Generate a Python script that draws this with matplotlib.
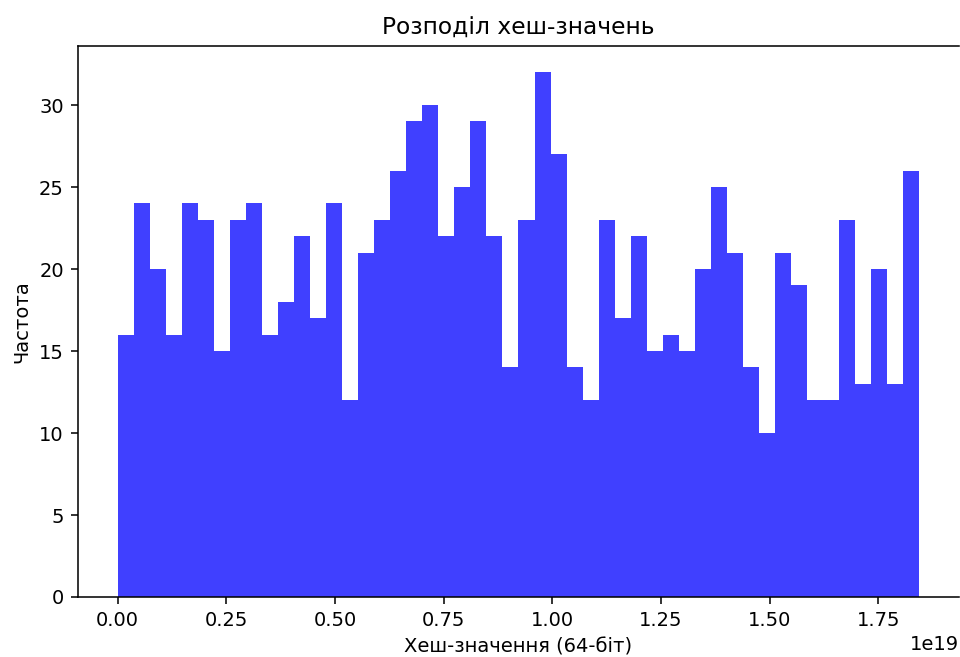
import numpy as np
import matplotlib
matplotlib.use("Agg")
import matplotlib.pyplot as plt

# histogram counts (50 bins over the 64-bit range)
counts = [16, 24, 20, 16, 24, 23, 15, 23, 24, 16,
          18, 22, 17, 24, 12, 21, 23, 26, 29, 30,
          22, 25, 29, 22, 14, 23, 32, 27, 14, 12,
          23, 17, 22, 15, 16, 15, 20, 25, 21, 14,
          10, 21, 19, 12, 12, 23, 13, 20, 13, 26]
n_bins = 50
hash_max = 2.0 ** 64

title = "Розподіл хеш-значень"
xlabel = "Хеш-значення (64-біт)"
ylabel = "Частота"

edges = np.linspace(0, hash_max, n_bins + 1)

DPI = 140
W, H = 960, 657
fig = plt.figure(figsize=(W / DPI, H / DPI), dpi=DPI)
# axes box in pixels: left 77.5, right 959.5, top 46, bottom 597
ax = fig.add_axes([77.5 / W, (H - 597) / H, (959.5 - 77.5) / W, (597 - 46) / H])
ax.hist(edges[:-1], bins=edges, weights=counts, color="blue", alpha=0.75)
ax.set_title(title)
ax.set_xlabel(xlabel)
ax.set_ylabel(ylabel)
# the reference is cropped just before the right spine
ax.spines["right"].set_visible(False)

fig.savefig("out.png", dpi=DPI)
